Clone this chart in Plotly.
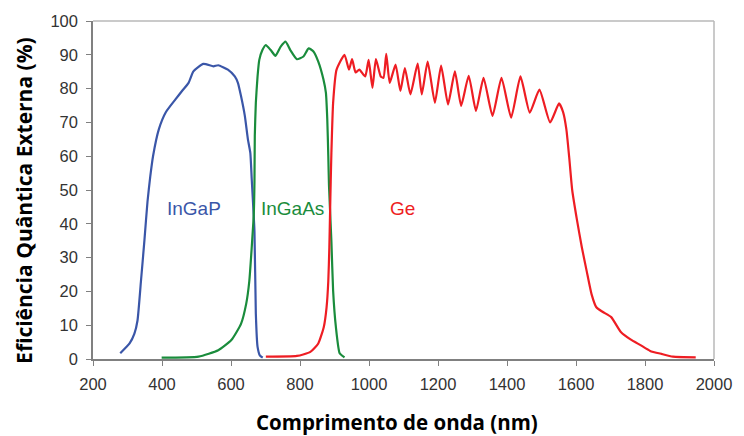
import plotly.graph_objects as go

# Data (wavelength nm, EQE %)
ingap_x = [279, 306, 320, 329, 339, 349, 358, 366, 374, 391, 411, 439, 458, 477, 491, 520, 549, 563, 591, 611, 620, 629, 640, 649, 656, 660, 668, 672, 677, 684, 692]
ingap_y = [1.7, 4.6, 7.5, 11.4, 23, 35, 46.6, 54, 60, 68, 73, 76.8, 79.3, 81.7, 85.1, 87.3, 86.6, 86.9, 85.6, 83.6, 81.7, 77.8, 72, 65, 61, 53.4, 37.8, 13.4, 3.6, 1.0, 0.4]

ingaas_x = [399, 506, 563, 601, 629, 644, 653, 660, 666, 668, 669, 672, 677, 682, 691, 701, 715, 729, 744, 758, 772, 791, 810, 825, 839, 853, 868, 875, 879, 882, 884, 891, 896, 904, 915, 929]
ingaas_y = [0.4, 0.7, 2.6, 5.6, 10.4, 16.3, 23, 32.9, 42.7, 52.4, 66, 75.8, 83.6, 88.5, 91.4, 92.9, 91.4, 89.7, 92.4, 93.9, 91.4, 88.7, 89.5, 91.9, 91, 88, 82.7, 78.8, 71, 60.2, 51.4, 34.8, 20.2, 9.5, 1.7, 0.5]

ge_x = [701, 791, 830, 853, 869, 877, 882, 885, 887, 889, 891, 896, 906, 929, 942, 951, 961, 972, 989, 999, 1010, 1020, 1034, 1042, 1050, 1060, 1077, 1091, 1104, 1120, 1141, 1153, 1170, 1191, 1209, 1229, 1249, 1267, 1289, 1310, 1332, 1358, 1384, 1412, 1439, 1466, 1494, 1525, 1551, 1563, 1572, 1580, 1589, 1603, 1617, 1631, 1645, 1659, 1678, 1702, 1730, 1758, 1787, 1815, 1848, 1881, 1947]
ge_y = [0.7, 0.9, 2.1, 4.6, 9.5, 15.3, 23, 32.9, 42.7, 52.4, 61, 75.8, 85.6, 90, 85.6, 88.7, 84.8, 85.6, 83.6, 88.5, 80.2, 88.7, 83.6, 83.2, 90.3, 81.7, 87.1, 79.3, 86.1, 78.3, 87.4, 78.3, 88, 75.8, 86.8, 75.3, 85.1, 74.9, 83.8, 73.4, 83.2, 71.9, 83.2, 71.4, 83.6, 72.9, 79.7, 70, 75.6, 72.9, 68, 60, 50, 41, 33, 26, 19.2, 15.3, 13.9, 12.4, 8.0, 5.8, 4.1, 2.4, 1.5, 0.7, 0.5]

x_ticks = [200, 400, 600, 800, 1000, 1200, 1400, 1600, 1800, 2000]
y_ticks = [0, 10, 20, 30, 40, 50, 60, 70, 80, 90, 100]

labels = ["InGaP", "InGaAs", "Ge"]
label_x = [494, 779, 1097]
label_y = [44.5, 44.5, 44.5]

blue = "#3a56a8"
green = "#1a8c3c"
red = "#ee1d23"
colors = [blue, green, red]

fig = go.Figure()
for xs, ys, c in [(ingap_x, ingap_y, blue), (ingaas_x, ingaas_y, green), (ge_x, ge_y, red)]:
    fig.add_trace(go.Scatter(x=xs, y=ys, mode="lines",
                             line=dict(color=c, width=2.2, shape="spline", smoothing=0.5),
                             showlegend=False, hoverinfo="skip"))

for t, lx, ly, c in zip(labels, label_x, label_y, colors):
    fig.add_annotation(x=lx, y=ly, text=t, showarrow=False,
                       font=dict(family="Liberation Sans, Arial", size=19, color=c))

# axis titles
fig.add_annotation(xref="paper", yref="paper", x=-0.111, y=0.468, xanchor="center", yanchor="middle",
                   text="<b>Eficiência Quântica Externa (%)</b>", textangle=-90, showarrow=False,
                   font=dict(family="Open Sans", size=21, color="#000"))
fig.add_annotation(xref="paper", yref="paper", x=0.49, y=-0.187, xanchor="center", yanchor="middle",
                   text="<b>Comprimento de onda (nm)</b>", showarrow=False,
                   font=dict(family="Open Sans", size=20.5, color="#000"))

# light frame on top and right
fig.add_shape(type="line", xref="paper", yref="paper", x0=0, x1=1, y0=1, y1=1,
              line=dict(color="#b8b8b8", width=1.5))
fig.add_shape(type="line", xref="paper", yref="paper", x0=1, x1=1, y0=0, y1=1,
              line=dict(color="#b8b8b8", width=1.5))

fig.update_xaxes(range=[200, 2000], tickvals=x_ticks, ticks="outside", ticklen=5, tickcolor="#808080",
                 showline=True, linecolor="#808080", linewidth=1.5, showgrid=False, zeroline=False,
                 ticklabelstandoff=4,
                 tickfont=dict(family="Liberation Sans, Arial", size=16.5, color="#333"))
fig.update_yaxes(range=[0, 100], tickvals=y_ticks, ticks="outside", ticklen=5, tickcolor="#808080",
                 showline=True, linecolor="#808080", linewidth=1.5, showgrid=False, zeroline=False,
                 ticklabelstandoff=5,
                 tickfont=dict(family="Liberation Sans, Arial", size=16.5, color="#333"))

fig.update_layout(width=744, height=436, margin=dict(l=93, r=21, t=17, b=77),
                  plot_bgcolor="white", paper_bgcolor="white")

fig.write_html("out.html")
